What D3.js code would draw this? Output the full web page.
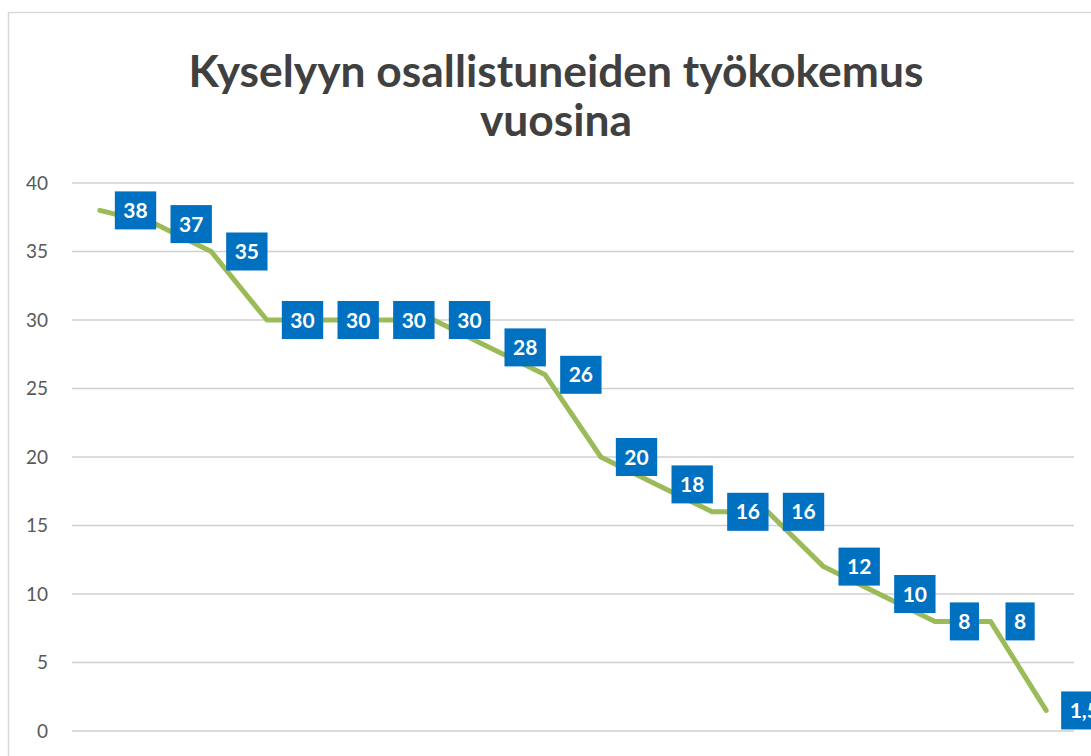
<!DOCTYPE html>
<html>
<head>
<meta charset="utf-8">
<script src="https://cdn.jsdelivr.net/npm/d3@7"></script>
<style>
    body { margin: 0; background: #fff; }
    svg { display: block; font-family: Lato, "Open Sans", sans-serif; }
    .grid line { stroke: #d0d0d0; stroke-width: 1.5; }
    .axis-y text { fill: #595959; font-size: 19px; }
    .line { fill: none; stroke: #9bbb59; stroke-width: 5; stroke-linejoin: round; stroke-linecap: round; }
    .lbl rect { fill: #0070c0; }
    .lbl text { fill: #fff; font-size: 21px; font-weight: 700; }
    .title { fill: #404040; font-weight: 700; }
</style>
</head>
<body>
<div id="chart"></div>
<script>
const titleLines = ["Kyselyyn osallistuneiden työkokemus", "vuosina"];
const values = [38, 37, 35, 30, 30, 30, 30, 28, 26, 20, 18, 16, 16, 12, 10, 8, 8, 1.5];
const categories = values.map((d, i) => i + 1);
const yTicks = [0, 5, 10, 15, 20, 25, 30, 35, 40];

const W = 1091, H = 756;
const plot = {l: 72, r: 1074, t: 183, b: 731};

const svg = d3.select("#chart").append("svg")
    .attr("width", W)
    .attr("height", H);

// chart frame (runs off the picture at right and bottom)
svg.append("rect")
    .attr("x", 8.5).attr("y", 12.5)
    .attr("width", 1120).attr("height", 800)
    .attr("fill", "#fff")
    .attr("stroke", "#d9d9d9")
    .attr("stroke-width", 1.5);

const x = d3.scalePoint()
    .domain(categories)
    .range([plot.l, plot.r])
    .padding(0.5);

const y = d3.scaleLinear()
    .domain([0, 40])
    .range([plot.b, plot.t]);

// title, two lines in one text, fitted to the width it has in the original
const title = svg.append("text")
    .attr("class", "title")
    .attr("text-anchor", "middle")
    .attr("font-size", 40);
title.selectAll("tspan")
    .data(titleLines)
    .join("tspan")
    .attr("x", 556)
    .attr("y", (d, i) => 87 + i * 49)
    .text(d => d);
const firstLen = title.select("tspan").node().getComputedTextLength();
title.attr("font-size", 40 * 735 / firstLen);

// gridlines
svg.append("g")
    .attr("class", "grid")
    .selectAll("line")
    .data(yTicks)
    .join("line")
    .attr("x1", plot.l).attr("x2", plot.r)
    .attr("y1", d => y(d)).attr("y2", d => y(d));

// y axis labels
const axisY = svg.append("g")
    .attr("class", "axis-y")
    .attr("transform", `translate(${plot.l - 24},0)`)
    .call(d3.axisLeft(y).tickValues(yTicks).tickSize(0).tickPadding(0));
axisY.attr("font-family", null).attr("font-size", null);
axisY.select(".domain").remove();

// line
const line = d3.line()
    .x((d, i) => x(categories[i]))
    .y(d => y(d));

svg.append("path")
    .datum(values)
    .attr("class", "line")
    .attr("d", line);

// data labels
const fmt = d => String(d).replace(".", ",");
const lbl = svg.append("g")
    .selectAll(".lbl")
    .data(values)
    .join("g")
    .attr("class", "lbl")
    .attr("transform", (d, i) => `translate(${x(categories[i]) + 15},${y(d)})`);

lbl.append("rect");
lbl.append("text")
    .attr("dy", "0.36em")
    .text(fmt);

lbl.each(function () {
    const g = d3.select(this);
    const w = g.select("text").node().getComputedTextLength() + 17;
    g.select("rect").attr("x", 0).attr("y", -19).attr("width", w).attr("height", 38);
    g.select("text").attr("x", w / 2).attr("text-anchor", "middle");
});
</script>
</body>
</html>
